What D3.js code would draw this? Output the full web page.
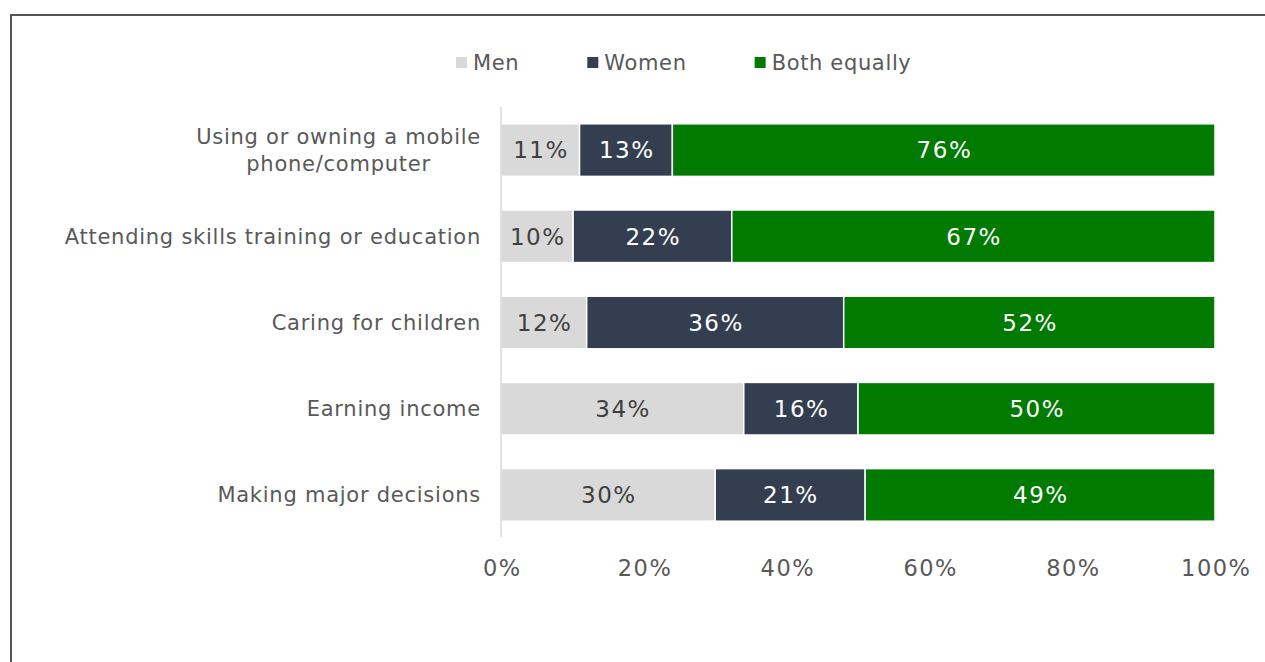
<!DOCTYPE html>
<html>
<head>
<meta charset="utf-8">
<script src="https://cdn.jsdelivr.net/npm/d3@7"></script>
<style>
  html, body { margin: 0; padding: 0; background: #ffffff; }
  svg { display: block; font-family: "DejaVu Sans", Verdana, sans-serif; }
</style>
</head>
<body>
<svg id="chart" width="1265" height="662"></svg>
<script>
// Who is responsible for each activity in the household
const categories = [
  "Using or owning a mobile phone/computer",
  "Attending skills training or education",
  "Caring for children",
  "Earning income",
  "Making major decisions"
];
const seriesNames = ["Men", "Women", "Both equally"];
const men   = [11, 10, 12, 34, 30];
const women = [13, 22, 36, 16, 21];
const both  = [76, 67, 52, 50, 49];
const xTicks = [0, 0.2, 0.4, 0.6, 0.8, 1];
const colors = ["#d9d9d9", "#333f50", "#007a00"];
const labelColors = ["#404040", "#ffffff", "#ffffff"];

// Lines used to wrap the long category name
const wrapped = {
  "Using or owning a mobile phone/computer": ["Using or owning a mobile", "phone/computer"]
};

const rows = categories.map((c, i) => ({
  category: c, "Men": men[i], "Women": women[i], "Both equally": both[i]
}));

const svg = d3.select("#chart");
const textGray = "#595959";

// Outer frame
svg.append("rect")
  .attr("x", 11).attr("y", 15)
  .attr("width", 1300).attr("height", 700)
  .attr("fill", "none")
  .attr("stroke", "#555555")
  .attr("stroke-width", 2);

const x = d3.scaleLinear().domain([0, 1]).range([501, 1215]);
const y = d3.scaleBand().domain(categories).range([107, 538]).paddingInner(0.39).paddingOuter(0.195);

// Shares of each row, normalised to the full bar
const stack = d3.stack().keys(seriesNames).offset(d3.stackOffsetExpand);
const stacked = stack(rows);

const g = svg.append("g");
const layers = g.selectAll("g.layer")
  .data(stacked)
  .join("g")
  .attr("class", "layer")
  .attr("fill", (d, i) => colors[i]);

layers.selectAll("rect")
  .data(d => d.map(v => Object.assign(v, { key: d.key })))
  .join("rect")
  .attr("x", d => x(d[0]))
  .attr("y", d => y(d.data.category))
  .attr("width", d => x(d[1]) - x(d[0]))
  .attr("height", y.bandwidth())
  .attr("stroke", "#ffffff")
  .attr("stroke-width", 1.5);

// Value labels centred in each segment
const valLS = 1.5;
layers.selectAll("text")
  .data((d, i) => d.map(v => ({ v, i })))
  .join("text")
  .attr("x", d => (x(d.v[0]) + x(d.v[1])) / 2 + valLS / 2)
  .attr("y", d => y(d.v.data.category) + y.bandwidth() / 2)
  .attr("dy", "0.36em")
  .attr("text-anchor", "middle")
  .attr("font-size", 23)
  .attr("letter-spacing", valLS)
  .attr("fill", d => labelColors[d.i])
  .text(d => d.v.data[d.v.key] + "%");

// Category axis line
svg.append("line")
  .attr("x1", x(0)).attr("x2", x(0))
  .attr("y1", 107).attr("y2", 537)
  .attr("stroke", "#d9d9d9")
  .attr("stroke-width", 1.5);

// Category labels, right aligned; wrapped lines centred on each other
const catG = svg.append("g");
categories.forEach(c => {
  const lines = wrapped[c] || [c];
  const cy = y(c) + y.bandwidth() / 2;
  const lh = 27;
  const t = catG.append("text")
    .attr("font-size", 21)
    .attr("letter-spacing", 0.75)
    .attr("fill", textGray)
    .attr("text-anchor", "middle");
  const spans = lines.map((ln, k) => t.append("tspan")
    .attr("y", cy + (k - (lines.length - 1) / 2) * lh)
    .attr("dy", "0.36em")
    .text(ln));
  const w = d3.max(spans, s => s.node().getComputedTextLength());
  spans.forEach(s => s.attr("x", 481 - w / 2));
});

// Percentage axis
const tickLS = 1.5;
const xAxis = d3.axisBottom(x).tickValues(xTicks).tickFormat(d3.format(".0%")).tickSize(0).tickPadding(0);
const ax = svg.append("g").attr("transform", "translate(0,568)").call(xAxis);
ax.select(".domain").remove();
ax.selectAll("text")
  .attr("font-size", 22.5)
  .attr("font-family", "DejaVu Sans, Verdana, sans-serif")
  .attr("letter-spacing", tickLS)
  .attr("x", tickLS / 2)
  .attr("fill", textGray)
  .attr("dy", "0.36em");

// Legend
const leg = svg.append("g");
let lx = 456;
seriesNames.forEach((name, i) => {
  leg.append("rect")
    .attr("x", lx).attr("y", 57)
    .attr("width", 11).attr("height", 11)
    .attr("fill", colors[i]);
  const t = leg.append("text")
    .attr("x", lx + 17).attr("y", 62.5)
    .attr("dy", "0.36em")
    .attr("font-size", 21)
    .attr("letter-spacing", 0.65)
    .attr("fill", textGray)
    .text(name);
  lx += 17 + t.node().getComputedTextLength() + 68;
});
</script>
</body>
</html>
